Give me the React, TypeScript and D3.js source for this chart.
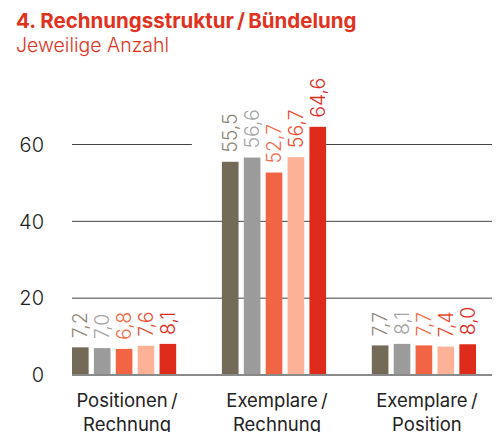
import React from 'react';
import * as d3 from 'd3';

const categories = ['Positionen / Rechnung', 'Exemplare / Rechnung', 'Exemplare / Position'];
const catLines = [['Positionen\u2009/', 'Rechnung'], ['Exemplare\u2009/', 'Rechnung'], ['Exemplare\u2009/', 'Position']];
const series = ['s1', 's2', 's3', 's4', 's5'];
const values = [
  [7.2, 7.0, 6.8, 7.6, 8.1],
  [55.5, 56.6, 52.7, 56.7, 64.6],
  [7.7, 8.1, 7.7, 7.4, 8.0],
];
const barColors = ['#736a58', '#9b9b9b', '#f26544', '#fdb196', '#de2b1c'];
const labelColors = ['#8d8676', '#a4a4a4', '#f26a4a', '#ec4a2e', '#de2b1c'];
const yTicks = [0, 20, 40, 60];

const W = 498;
const H = 432;
const red = '#e0321e';
const font = 'Inter, "Noto Sans", sans-serif';

const App = () => {
  const y = d3.scaleLinear().domain([0, 60]).range([375, 144.5]);
  const x0 = d3.scaleBand<string>().domain(categories).range([72, 476]).paddingInner(0.305);
  const x1 = d3.scaleBand<string>().domain(series).range([0, x0.bandwidth()]).paddingInner(0.24);
  const fmt = (v: number) => v.toFixed(1).replace('.', ',');
  const labelFs = 19.5;

  return (
    <svg width={W} height={H} style={{ position: 'absolute', left: 0, top: 0, background: '#fff' }}>
      <text x={16} y={28} fill={red} fontFamily={font} fontWeight={700} fontSize={20.5}>
        4. Rechnungsstruktur{'\u2009'}/{'\u2009'}Bündelung
      </text>
      <text x={16} y={52} fill={red} fontFamily={font} fontWeight={300} fontSize={19.5}>
        Jeweilige Anzahl
      </text>

      {yTicks.map((t) => (
        <g key={t}>
          {t > 0 && <line x1={72} x2={492} y1={y(t)} y2={y(t)} stroke="#444" strokeWidth={1} />}
          <text x={44} y={y(t)} dy="0.36em" textAnchor="end" fill="#222" fontFamily={font} fontWeight={300} fontSize={20}>
            {t}
          </text>
        </g>
      ))}

      {categories.map((c, ci) => {
        const gx = x0(c)!;
        const tops = values[ci].map((v) => y(v));
        const labelTop = d3.min(values[ci], (v) => y(v) - 10 - fmt(v).length * 10.5)!;
        const labelBottom = d3.max(tops)! - 4;
        return (
          <g key={c}>
            {labelBottom - labelTop > 0 && ci === 1 && (
              <rect x={gx - 30} y={labelTop} width={x0.bandwidth() + 30} height={labelBottom - labelTop} fill="#fff" />
            )}
            {values[ci].map((v, si) => (
              <rect key={si} x={gx + x1(series[si])!} y={y(v)} width={x1.bandwidth()} height={y(0) - y(v)} fill={barColors[si]} />
            ))}
            {values[ci].map((v, si) => {
              const cx = gx + x1(series[si])! + x1.bandwidth() / 2 + 7;
              const cy = y(v) - 9;
              return (
                <text key={si} transform={`translate(${cx},${cy}) rotate(-90)`} fill={labelColors[si]} fontFamily={font} fontWeight={300} fontSize={labelFs}>
                  {fmt(v)}
                </text>
              );
            })}
            {catLines[ci].map((l, li) => (
              <text key={li} x={gx + x0.bandwidth() / 2 + 3} y={407 + li * 24} textAnchor="middle" fill="#222" fontFamily={font} fontWeight={400} fontSize={18.5}>
                {l}
              </text>
            ))}
          </g>
        );
      })}

      <line x1={72} x2={492} y1={y(0)} y2={y(0)} stroke="#8a8a8a" strokeWidth={2} />
    </svg>
  );
};

export default App;
